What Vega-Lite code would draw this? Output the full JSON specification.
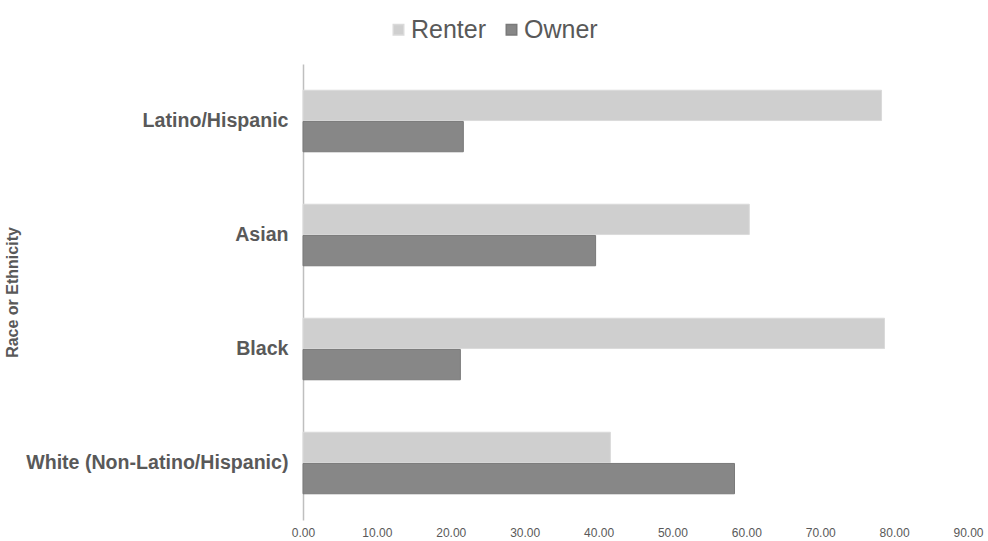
{
  "$schema": "https://vega.github.io/schema/vega-lite/v6.json",
  "autosize": {"type": "none"},
  "width": 665,
  "height": 456,
  "padding": {"left": 303, "top": 64, "right": 20, "bottom": 21},
  "background": "white",
  "config": {
    "font": "Liberation Sans",
    "view": {"stroke": null}
  },
  "data": {
    "values": [
      {"group": "Latino/Hispanic", "tenure": "Renter", "pct": 78.3},
      {"group": "Latino/Hispanic", "tenure": "Owner", "pct": 21.7},
      {"group": "Asian", "tenure": "Renter", "pct": 60.4},
      {"group": "Asian", "tenure": "Owner", "pct": 39.6},
      {"group": "Black", "tenure": "Renter", "pct": 78.7},
      {"group": "Black", "tenure": "Owner", "pct": 21.3},
      {"group": "White (Non-Latino/Hispanic)", "tenure": "Renter", "pct": 41.6},
      {"group": "White (Non-Latino/Hispanic)", "tenure": "Owner", "pct": 58.4}
    ]
  },
  "mark": {"type": "bar", "strokeWidth": 1},
  "encoding": {
    "y": {
      "field": "group",
      "type": "nominal",
      "sort": ["Latino/Hispanic", "Asian", "Black", "White (Non-Latino/Hispanic)"],
      "scale": {"paddingInner": 0.46, "paddingOuter": 0.23},
      "axis": {
        "title": "Race or Ethnicity",
        "titleFont": "Liberation Sans",
        "titleFontSize": 16,
        "titleFontWeight": "bold",
        "titleColor": "#595959",
        "titleX": -283,
        "titleY": 228,
        "titleAngle": 270,
        "titleAlign": "center",
        "titleBaseline": "bottom",
        "labelFontSize": 19.6,
        "labelFontWeight": "bold",
        "labelColor": "#595959",
        "labelPadding": 15,
        "labelLimit": 0,
        "ticks": false,
        "domainColor": "#bfbfbf",
        "domainWidth": 1.5
      }
    },
    "yOffset": {
      "field": "tenure",
      "type": "nominal",
      "sort": ["Renter", "Owner"],
      "scale": {"paddingInner": 0.03}
    },
    "x": {
      "field": "pct",
      "type": "quantitative",
      "scale": {"domain": [0, 90], "nice": false},
      "axis": {
        "title": null,
        "values": [0, 10, 20, 30, 40, 50, 60, 70, 80, 90],
        "format": ".2f",
        "labelFontSize": 12,
        "labelColor": "#595959",
        "labelPadding": 7,
        "labelFlush": false,
        "domain": false,
        "ticks": false,
        "grid": false
      }
    },
    "color": {
      "field": "tenure",
      "type": "nominal",
      "scale": {"domain": ["Renter", "Owner"], "range": ["#cfcfcf", "#878787"]},
      "legend": {
        "title": null,
        "orient": "none",
        "direction": "horizontal",
        "legendX": 83,
        "legendY": -47,
        "symbolType": "square",
        "symbolSize": 110,
        "labelFontSize": 25,
        "labelColor": "#595959",
        "columnPadding": 12,
        "labelOffset": 0
      }
    },
    "stroke": {
      "field": "tenure",
      "type": "nominal",
      "scale": {"domain": ["Renter", "Owner"], "range": ["#dadada", "#7a7a7a"]},
      "legend": null
    }
  }
}
